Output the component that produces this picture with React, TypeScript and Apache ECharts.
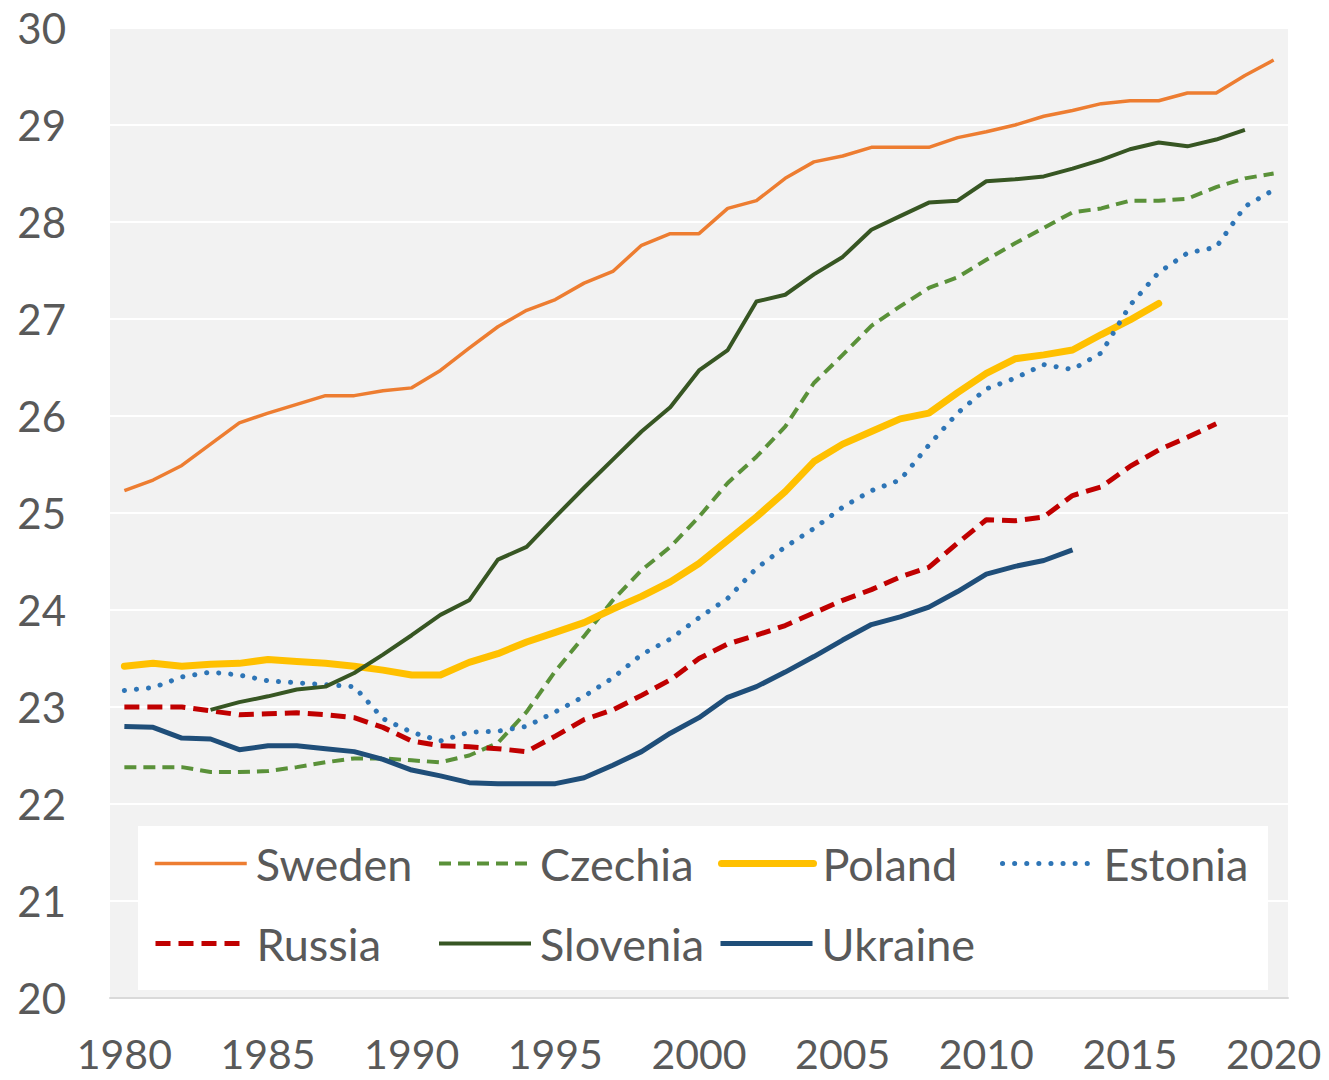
import React, { useEffect, useRef } from "react";
import * as echarts from "echarts";

const years = [
  "1980", "1981", "1982", "1983", "1984", "1985", "1986", "1987", "1988", "1989",
  "1990", "1991", "1992", "1993", "1994", "1995", "1996", "1997", "1998", "1999",
  "2000", "2001", "2002", "2003", "2004", "2005", "2006", "2007", "2008", "2009",
  "2010", "2011", "2012", "2013", "2014", "2015", "2016", "2017", "2018", "2019",
  "2020",
];

const sweden = [
  25.23, 25.34, 25.49, 25.71, 25.93, 26.03, 26.12, 26.21, 26.21, 26.26,
  26.29, 26.47, 26.7, 26.92, 27.09, 27.2, 27.37, 27.49, 27.76, 27.88,
  27.88, 28.14, 28.22, 28.45, 28.62, 28.68, 28.77, 28.77, 28.77, 28.87,
  28.93, 29.0, 29.09, 29.15, 29.22, 29.25, 29.25, 29.33, 29.33, 29.51,
  29.67,
];

const czechia = [
  22.38, 22.38, 22.38, 22.33, 22.33, 22.34, 22.38, 22.43, 22.47, 22.47,
  22.45, 22.43, 22.5, 22.63, 22.95, 23.37, 23.73, 24.1, 24.41, 24.65,
  24.96, 25.31, 25.58, 25.89, 26.34, 26.63, 26.93, 27.13, 27.32, 27.43,
  27.61, 27.78, 27.94, 28.1, 28.14, 28.22, 28.22, 28.24, 28.36, 28.45,
  28.5,
];

const poland = [
  23.42, 23.45, 23.42, 23.44, 23.45, 23.49, 23.47, 23.45, 23.42, 23.38,
  23.33, 23.33, 23.46, 23.55, 23.67, 23.77, 23.87, 24.01, 24.14, 24.29,
  24.48, 24.72, 24.96, 25.22, 25.53, 25.71, 25.84, 25.97, 26.03, 26.24,
  26.44, 26.59, 26.63, 26.68, 26.84, 26.99, 27.16, null, null, null,
  null,
];

const estonia = [
  23.17, 23.2, 23.31, 23.36, 23.33, 23.27, 23.25, 23.23, 23.21, 22.88,
  22.74, 22.65, 22.74, 22.75, 22.8, 22.95, 23.11, 23.3, 23.54, 23.7,
  23.92, 24.12, 24.43, 24.65, 24.84, 25.06, 25.23, 25.34, 25.7, 26.03,
  26.28, 26.39, 26.53, 26.48, 26.65, 27.14, 27.48, 27.68, 27.74, 28.16,
  28.33,
];

const russia = [
  23.0, 23.0, 23.0, 22.96, 22.92, 22.93, 22.94, 22.92, 22.89, 22.79,
  22.65, 22.6, 22.59, 22.57, 22.54, 22.7, 22.87, 22.97, 23.12, 23.28,
  23.5, 23.65, 23.74, 23.84, 23.97, 24.1, 24.21, 24.34, 24.44, 24.69,
  24.93, 24.92, 24.96, 25.18, 25.27, 25.48, 25.65, 25.78, 25.92, null,
  null,
];

const slovenia = [
  null, null, null, 22.97, 23.05, 23.11, 23.18, 23.21, 23.35, 23.54,
  23.74, 23.95, 24.1, 24.52, 24.65, 24.96, 25.26, 25.55, 25.84, 26.09,
  26.47, 26.68, 27.18, 27.25, 27.46, 27.64, 27.92, 28.06, 28.2, 28.22,
  28.42, 28.44, 28.47, 28.55, 28.64, 28.75, 28.82, 28.78, 28.85, 28.95,
  null,
];

const ukraine = [
  22.8, 22.79, 22.68, 22.67, 22.56, 22.6, 22.6, 22.57, 22.54, 22.46,
  22.35, 22.29, 22.22, 22.21, 22.21, 22.21, 22.27, 22.4, 22.54, 22.73,
  22.89, 23.1, 23.21, 23.36, 23.52, 23.69, 23.85, 23.93, 24.03, 24.19,
  24.37, 24.45, 24.51, 24.62, null, null, null, null, null, null,
  null,
];

const FONT = "Lato";
const TEXT_COLOR = "#595959";

type SeriesDef = {
  name: string;
  data: (number | null)[];
  color: string;
  width: number;
  type: any;
  cap: "butt" | "round" | "square";
  legendLeft: number;
  legendTop: number;
};

const seriesDefs: SeriesDef[] = [
  { name: "Sweden", data: sweden, color: "#ED7D31", width: 3.5, type: "solid", cap: "butt", legendLeft: 153, legendTop: 841 },
  { name: "Czechia", data: czechia, color: "#5A9139", width: 4, type: [12, 7], cap: "butt", legendLeft: 437, legendTop: 841 },
  { name: "Poland", data: poland, color: "#FFC000", width: 7, type: "solid", cap: "round", legendLeft: 718, legendTop: 841 },
  { name: "Estonia", data: estonia, color: "#2E75B6", width: 5, type: [0.1, 12], cap: "round", legendLeft: 1000, legendTop: 841 },
  { name: "Russia", data: russia, color: "#C00000", width: 5, type: [15, 8], cap: "butt", legendLeft: 153, legendTop: 921 },
  { name: "Slovenia", data: slovenia, color: "#375623", width: 4, type: "solid", cap: "butt", legendLeft: 437, legendTop: 921 },
  { name: "Ukraine", data: ukraine, color: "#1F4E79", width: 5, type: "solid", cap: "butt", legendLeft: 718, legendTop: 921 },
];

export default function App() {
  const ref = useRef<HTMLDivElement>(null);

  useEffect(() => {
    document.body.style.margin = "0";
    if (!ref.current) return;
    const chart = echarts.init(ref.current, undefined, { renderer: "svg" });

    const option: any = {
      animation: false,
      backgroundColor: "#ffffff",
      grid: {
        left: 110,
        right: 41,
        top: 28,
        bottom: 82,
        show: true,
        backgroundColor: "#F2F2F2",
        borderWidth: 0,
      },
      xAxis: {
        type: "category",
        data: years,
        boundaryGap: true,
        axisLine: { show: true, lineStyle: { color: "#D9D9D9", width: 2 } },
        axisTick: { show: false },
        splitLine: { show: false },
        axisLabel: {
          interval: 4,
          margin: 35,
          fontFamily: FONT,
          fontSize: 41,
          lineHeight: 41,
          color: TEXT_COLOR,
        },
      },
      yAxis: {
        type: "value",
        min: 20,
        max: 30,
        interval: 1,
        axisLine: { show: false },
        axisTick: { show: false },
        splitLine: { show: true, lineStyle: { color: "#FFFFFF", width: 2 } },
        axisLabel: {
          margin: 44,
          fontFamily: FONT,
          fontSize: 42,
          lineHeight: 42,
          color: TEXT_COLOR,
        },
      },
      graphic: [
        {
          type: "rect",
          z: 1,
          shape: { x: 138, y: 826, width: 1130, height: 164 },
          style: { fill: "#FFFFFF" },
        },
      ],
      legend: seriesDefs.map((s) => ({
        data: [s.name],
        left: s.legendLeft,
        top: s.legendTop,
        padding: 0,
        itemWidth: 92,
        itemHeight: 14,
        itemGap: 0,
        selectedMode: false,
        z: 5,
        itemStyle: { opacity: 0 },
        lineStyle: { width: "inherit" },
        textStyle: {
          fontFamily: FONT,
          fontSize: 45,
          color: TEXT_COLOR,
          padding: [0, 0, 0, 4],
        },
      })),
      series: seriesDefs.map((s) => ({
        name: s.name,
        type: "line",
        data: s.data,
        symbol: "none",
        showSymbol: false,
        connectNulls: false,
        z: 2,
        lineStyle: {
          color: s.color,
          width: s.width,
          type: s.type,
          cap: s.cap,
          join: "round",
        },
        itemStyle: { color: s.color },
      })),
    };

    chart.setOption(option);
    return () => chart.dispose();
  }, []);

  return <div ref={ref} style={{ width: 1329, height: 1080 }} />;
}
